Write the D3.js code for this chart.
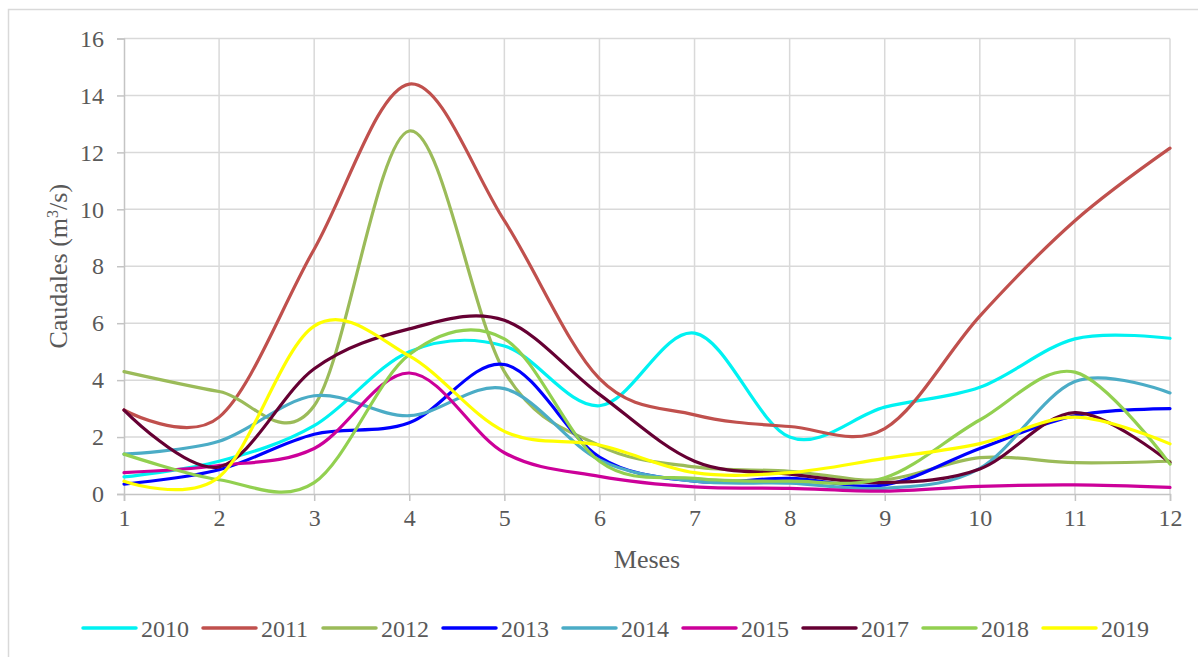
<!DOCTYPE html>
<html>
<head>
<meta charset="utf-8">
<script src="https://cdn.jsdelivr.net/npm/d3@7"></script>
<style>
  html, body { margin: 0; padding: 0; background: #fff; }
  svg { display: block; }
  text { font-family: "Liberation Serif", Tinos, "Times New Roman", "DejaVu Serif", serif; fill: #595959; }
</style>
</head>
<body>
<svg id="chart" width="1198" height="657"></svg>
<script>
// meses
const months = [1, 2, 3, 4, 5, 6, 7, 8, 9, 10, 11, 12]
const yTicks = [0, 2, 4, 6, 8, 10, 12, 14, 16]

// caudales medios mensuales (m3/s)
const q2010 = [0.6, 1.15, 2.4, 5.0, 5.2, 3.1, 5.65, 2.0, 3.05, 3.75, 5.45, 5.47]
const q2011 = [2.95, 2.7, 8.6, 14.4, 9.6, 4.05, 2.78, 2.37, 2.3, 6.25, 9.6, 12.15]
const q2012 = [4.3, 3.6, 3.1, 12.75, 4.3, 1.7, 0.95, 0.8, 0.5, 1.28, 1.1, 1.15]
const q2013 = [0.35, 0.85, 2.1, 2.5, 4.55, 1.3, 0.45, 0.55, 0.32, 1.6, 2.75, 3.0]
const q2014 = [1.4, 1.85, 3.45, 2.75, 3.7, 1.2, 0.45, 0.38, 0.2, 0.9, 3.95, 3.55]
const q2015 = [0.75, 1.0, 1.6, 4.25, 1.45, 0.62, 0.25, 0.2, 0.1, 0.27, 0.32, 0.23]
const q2017 = [2.95, 0.95, 4.4, 5.8, 6.1, 3.5, 1.15, 0.7, 0.4, 0.88, 2.86, 1.1]
const q2018 = [1.4, 0.5, 0.4, 4.9, 5.45, 1.15, 0.55, 0.45, 0.57, 2.6, 4.28, 1.05]
const q2019 = [0.45, 0.6, 5.9, 4.85, 2.2, 1.72, 0.75, 0.75, 1.25, 1.77, 2.7, 1.76]

const years = ['2010', '2011', '2012', '2013', '2014', '2015', '2017', '2018', '2019']
const colors = ['#00f2f2', '#c0504d', '#9bbb59', '#0000ff', '#4bacc6', '#cc0099', '#660033', '#92d050', '#ffff00']
const values = [q2010, q2011, q2012, q2013, q2014, q2015, q2017, q2018, q2019]

const fontFamily = '"Liberation Serif", Tinos, "Times New Roman", "DejaVu Serif", serif'

const svg = d3.select('#chart')
const width = +svg.attr('width')
const height = +svg.attr('height')

// marco exterior del grafico
svg.append('rect')
  .attr('x', 8.5)
  .attr('y', 9.5)
  .attr('width', width + 20)
  .attr('height', height + 20)
  .attr('fill', '#fff')
  .attr('stroke', '#d9d9d9')
  .attr('stroke-width', 1.5)

const x = d3.scaleLinear().domain([1, 12]).range([124, 1170])
const y = d3.scaleLinear().domain([0, 16]).range([494, 38.5])

// rejilla horizontal
svg.append('g')
  .selectAll('line')
  .data(yTicks.slice(1))
  .enter()
  .append('line')
  .attr('x1', x(1))
  .attr('x2', x(12))
  .attr('y1', d => y(d))
  .attr('y2', d => y(d))
  .attr('stroke', '#d9d9d9')
  .attr('stroke-width', 1.5)

// rejilla vertical
svg.append('g')
  .selectAll('line')
  .data(months.slice(1))
  .enter()
  .append('line')
  .attr('x1', d => x(d))
  .attr('x2', d => x(d))
  .attr('y1', y(16))
  .attr('y2', y(0))
  .attr('stroke', '#d9d9d9')
  .attr('stroke-width', 1.5)

// eje Y
const yAxis = d3.axisLeft(y).tickValues(yTicks).tickSize(7).tickPadding(13)
const gy = svg.append('g').attr('transform', `translate(${x(1)},0)`).call(yAxis)
gy.attr('font-family', null).attr('font-size', null)
gy.select('.domain').attr('stroke', '#c4c4c4').attr('stroke-width', 1.5)
gy.selectAll('.tick line').attr('stroke', '#c4c4c4').attr('stroke-width', 1.5)
gy.selectAll('.tick text')
  .style('font-size', '24px')
  .style('font-family', fontFamily)
  .attr('fill', '#595959')

// eje X
const xAxis = d3.axisBottom(x).tickValues(months).tickSize(7).tickPadding(8).tickFormat(d3.format('d'))
const gx = svg.append('g').attr('transform', `translate(0,${y(0)})`).call(xAxis)
gx.attr('font-family', null).attr('font-size', null)
gx.select('.domain').attr('stroke', '#c4c4c4').attr('stroke-width', 1.5)
gx.selectAll('.tick line').attr('stroke', '#c4c4c4').attr('stroke-width', 1.5)
gx.selectAll('.tick text')
  .style('font-size', '24px')
  .style('font-family', fontFamily)
  .attr('fill', '#595959')

// titulos de ejes
svg.append('text')
  .attr('x', (x(1) + x(12)) / 2)
  .attr('y', 568)
  .attr('text-anchor', 'middle')
  .style('font-size', '26px')
  .text('Meses')

const yTitle = svg.append('text')
  .attr('transform', `translate(67,${(y(0) + y(16)) / 2}) rotate(-90)`)
  .attr('text-anchor', 'middle')
  .style('font-size', '26px')
yTitle.append('tspan').text('Caudales (m')
yTitle.append('tspan').attr('dy', -9).style('font-size', '16px').text('3')
yTitle.append('tspan').attr('dy', 9).text('/s)')

// series suavizadas
const line = d3.line()
  .x((d, i) => x(months[i]))
  .y(d => y(d))
  .curve(d3.curveCardinal.tension(0))

svg.append('g')
  .selectAll('path')
  .data(values)
  .enter()
  .append('path')
  .attr('d', line)
  .attr('fill', 'none')
  .attr('stroke', (d, i) => colors[i])
  .attr('stroke-width', 3.2)
  .attr('stroke-linejoin', 'round')
  .attr('stroke-linecap', 'round')

// leyenda
const legendX = d3.scaleLinear().domain([0, years.length - 1]).range([83, 1043])
const legend = svg.append('g')
  .selectAll('g')
  .data(years)
  .enter()
  .append('g')
  .attr('transform', (d, i) => `translate(${legendX(i)},628)`)

legend.append('line')
  .attr('x1', 0)
  .attr('x2', 53)
  .attr('stroke', (d, i) => colors[i])
  .attr('stroke-width', 3.5)
  .attr('stroke-linecap', 'round')

legend.append('text')
  .attr('x', 58)
  .attr('y', 8.5)
  .style('font-size', '24px')
  .text(d => d)
</script>
</body>
</html>
